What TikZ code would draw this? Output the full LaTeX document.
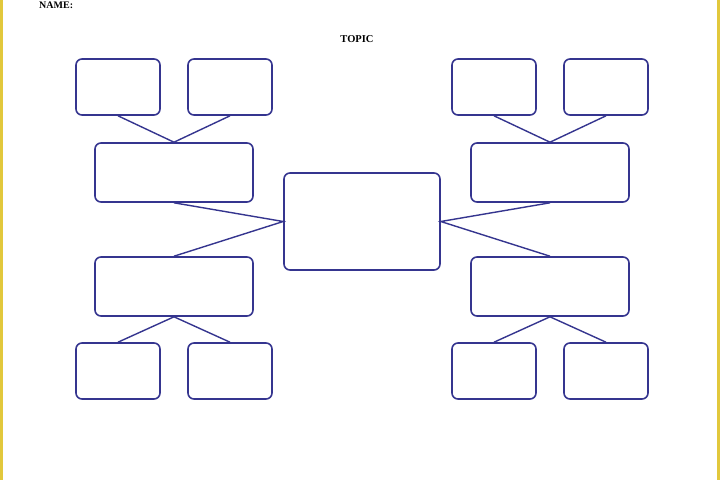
\documentclass[tikz,border=0pt]{standalone}
\usepackage{fontspec}
\setmainfont{Liberation Serif}
\definecolor{boxblue}{HTML}{35358F}
\definecolor{edgeyellow}{HTML}{E2C83C}
\begin{document}
\begin{tikzpicture}[x=1pt,y=-1pt,
  box/.style={draw=boxblue, line width=1.6pt, rounded corners=6pt, fill=white},
  link/.style={draw=boxblue, line width=1.4pt},
  lbl/.style={font=\bfseries, inner sep=0pt}]
\useasboundingbox (0,0) rectangle (720,480);
\fill[white] (0,0) rectangle (720,480);
\fill[edgeyellow] (0,0) rectangle (3,480);
\fill[edgeyellow] (716.5,0) rectangle (720,480);
% texts
\node[lbl, font=\bfseries\fontsize{10}{12}\selectfont, anchor=base west] (name) at (39,8) {NAME:};
\node[lbl, font=\bfseries\fontsize{10.5}{12}\selectfont, anchor=base] (topic) at (357,42) {TOPIC};
% center
\node[box, minimum width=156pt, minimum height=97pt] (c) at (362,221.5) {};
% left mid boxes
\node[box, minimum width=158pt, minimum height=59pt] (lt) at (174,172.5) {};
\node[box, minimum width=158pt, minimum height=59pt] (lb) at (174,286.5) {};
% right mid boxes
\node[box, minimum width=158pt, minimum height=59pt] (rt) at (550,172.5) {};
\node[box, minimum width=158pt, minimum height=59pt] (rb) at (550,286.5) {};
% small boxes
\foreach \n/\x/\y in {lt1/118/87, lt2/230/87, lb1/118/371, lb2/230/371,
                      rt1/494/87, rt2/606/87, rb1/494/371, rb2/606/371}
  \node[box, minimum width=84pt, minimum height=56pt] (\n) at (\x,\y) {};
% connectors
\draw[link] (lt1.south) -- (lt.north) -- (lt2.south);
\draw[link] (lb1.north) -- (lb.south) -- (lb2.north);
\draw[link] (rt1.south) -- (rt.north) -- (rt2.south);
\draw[link] (rb1.north) -- (rb.south) -- (rb2.north);
\draw[link] (lt.south) -- (c.west) -- (lb.north);
\draw[link] (rt.south) -- (c.east) -- (rb.north);
\end{tikzpicture}
\end{document}
